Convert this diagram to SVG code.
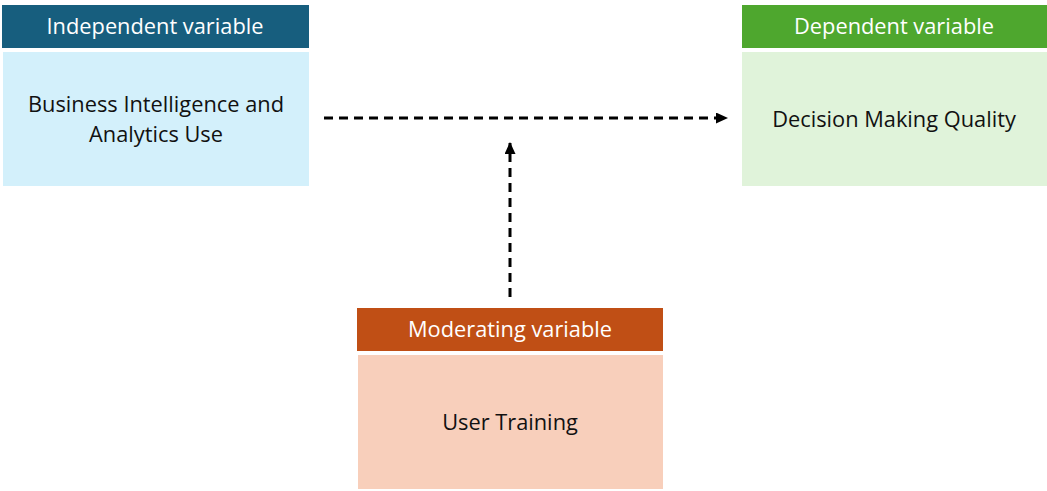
<svg xmlns="http://www.w3.org/2000/svg" width="1047" height="491" viewBox="0 0 1047 491">
<style>
.t{font-family:"Open Sans","Noto Sans","Liberation Sans",sans-serif;text-anchor:middle}
.h{fill:#ffffff;font-size:21.8px}
.b{fill:#111111;font-size:21.8px}
.c{stroke:#000;stroke-width:3;stroke-dasharray:9 6;fill:none}
</style>
<defs>
<marker id="ah" markerWidth="12" markerHeight="11" refX="11" refY="5.5" orient="auto" markerUnits="userSpaceOnUse">
<path d="M0,0 L12,5.5 L0,11 Z" fill="#000"/>
</marker>
</defs>
<rect width="1047" height="491" fill="#fff"/>
<g id="independent">
<rect x="2" y="5" width="307" height="43" fill="#175E7E"/>
<rect x="3" y="52" width="306" height="134" fill="#D3F0FB"/>
<text class="t h" x="155" y="34">Independent variable</text>
<text class="t b" x="156" y="112">Business Intelligence and</text>
<text class="t b" x="156" y="142">Analytics Use</text>
</g>
<g id="dependent">
<rect x="742" y="5" width="305" height="43" fill="#4EA72E"/>
<rect x="742" y="52" width="305" height="134" fill="#E0F3DA"/>
<text class="t h" x="894" y="34">Dependent variable</text>
<text class="t b" x="894" y="127">Decision Making Quality</text>
</g>
<g id="moderating">
<rect x="357" y="308" width="306" height="43" fill="#C04F15"/>
<rect x="358" y="355" width="305" height="134" fill="#F8CFBB"/>
<text class="t h" x="510" y="337">Moderating variable</text>
<text class="t b" x="510" y="430">User Training</text>
</g>
<g id="connectors">
<line class="c" x1="324" y1="118" x2="727" y2="118" marker-end="url(#ah)"/>
<line class="c" x1="510" y1="297" x2="510" y2="143" marker-end="url(#ah)"/>
</g>
</svg>
